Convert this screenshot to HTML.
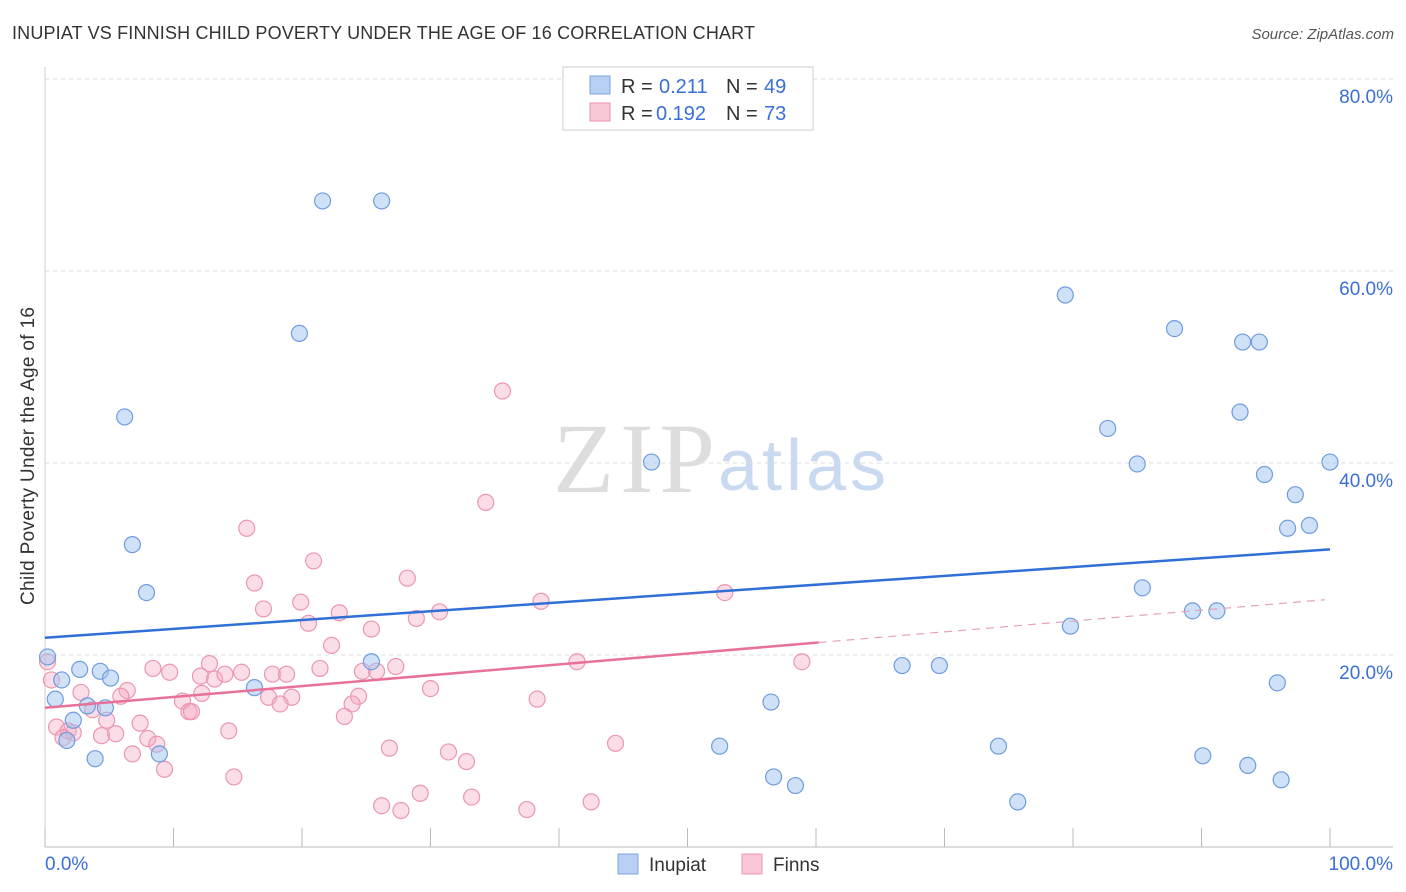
<!DOCTYPE html>
<html><head><meta charset="utf-8"><style>
body{margin:0;background:#fff;font-family:"Liberation Sans",sans-serif;}
svg{display:block}
</style></head><body>
<svg id="chart" width="1406" height="892">
<text x="12" y="39" font-size="18" fill="#333" textLength="743">INUPIAT VS FINNISH CHILD POVERTY UNDER THE AGE OF 16 CORRELATION CHART</text>
<text x="1394" y="39" font-size="15" fill="#555" font-style="italic" text-anchor="end">Source: ZipAtlas.com</text>
<text x="34" y="456" font-size="19" fill="#333" text-anchor="middle" textLength="298" transform="rotate(-90 34 456)">Child Poverty Under the Age of 16</text>
<text x="553" y="492" font-size="100" fill="#ddd" font-family="Liberation Serif,serif" textLength="162">ZIP</text>
<text x="718" y="490" font-size="72" fill="#c9d9f0" textLength="168">atlas</text>
<g id="grid"></g><g id="pts"></g><g id="lines"></g>
<g>
<rect x="563" y="67" width="250" height="63" fill="#fff" stroke="#ccc"/>
<rect x="590" y="76" width="20" height="18" fill="#b8d0f4" stroke="#7aa3e0"/>
<rect x="590" y="103" width="20" height="18" fill="#f9c7d6" stroke="#eb96b0"/>
<text x="621" y="93" font-size="20" fill="#333">R =</text><text x="659" y="93" font-size="20" fill="#3a6fd8">0.211</text>
<text x="726" y="93" font-size="20" fill="#333">N =</text><text x="764" y="93" font-size="20" fill="#3a6fd8">49</text>
<text x="621" y="120" font-size="20" fill="#333">R =</text><text x="656" y="120" font-size="20" fill="#3a6fd8">0.192</text>
<text x="726" y="120" font-size="20" fill="#333">N =</text><text x="764" y="120" font-size="20" fill="#3a6fd8">73</text>
</g>
<g>
<rect x="618" y="854" width="20" height="20" fill="#b8d0f4" stroke="#7aa3e0"/>
<text x="649" y="871" font-size="19" fill="#333">Inupiat</text>
<rect x="742" y="854" width="20" height="20" fill="#f9c7d6" stroke="#eb96b0"/>
<text x="773" y="871" font-size="19" fill="#333">Finns</text>
</g>
<text x="45" y="870" font-size="19" fill="#3a6fd8">0.0%</text>
<text x="1393" y="870" font-size="19" fill="#3a6fd8" text-anchor="end">100.0%</text>
</svg>
<script>
const yTicks=[20,40,60,80];
const blueX=[21.6,26.2,19.8,6.2,6.8,7.9,0.2,2.7,4.3,5.1,1.3,0.8,3.3,4.7,2.2,1.7,3.9,8.9,16.3,25.4,47.2,52.5,56.5,56.7,58.4,66.7,69.6,74.2,75.7,79.4,79.8,82.7,85.0,85.4,87.9,89.3,91.2,90.1,93.0,93.2,94.5,93.6,94.9,95.9,96.2,96.7,97.3,98.4,100];
const blueY=[67.3,67.3,53.5,44.8,31.5,26.5,19.8,18.5,18.3,17.6,17.4,15.4,14.7,14.5,13.2,11.1,9.2,9.7,16.6,19.3,40.1,10.5,15.1,7.3,6.4,18.9,18.9,10.5,4.7,57.5,23.0,43.6,39.9,27.0,54.0,24.6,24.6,9.5,45.3,52.6,52.6,8.5,38.8,17.1,7.0,33.2,36.7,33.5,40.1];
const pinkPx=[[503,391],[486,502],[247,528],[313,561],[255,583],[408,578],[301,602],[264,609],[339,613],[439,612],[416,619],[308,623],[541,601],[725,593],[371,629],[332,645],[209,664],[153,668],[170,672],[241,672],[273,674],[286,674],[320,668],[363,671],[377,671],[396,667],[577,662],[802,662],[200,676],[215,679],[225,674],[51,680],[81,692],[127,691],[121,696],[202,693],[268,697],[292,697],[280,704],[358,696],[352,704],[430,689],[537,699],[183,701],[93,710],[189,712],[192,712],[344,716],[107,720],[140,723],[57,727],[68,731],[73,733],[229,731],[101,736],[116,734],[148,739],[157,744],[63,738],[133,754],[389,748],[448,752],[615,743],[467,762],[165,769],[234,777],[420,793],[471,797],[591,802],[382,806],[401,811],[527,810],[48,662]];
const pinkX=pinkPx.map(p=>+((p[0]-45)/12.85).toFixed(1));
const pinkY=pinkPx.map(p=>+((847-p[1])/9.6).toFixed(1));
const blueLine=[21.8,31.0];
const pinkLine=[14.5,25.8];
const pinkSolidEnd=60.2;
const X=v=>45+v*12.85, Y=v=>847-v*9.6;
const NS="http://www.w3.org/2000/svg";
function mk(t,a,parent){const e=document.createElementNS(NS,t);for(const k in a)e.setAttribute(k,a[k]);document.getElementById(parent).appendChild(e);return e;}
yTicks.forEach(t=>{
 const l=mk('line',{x1:45,x2:1393,y1:Y(t),y2:Y(t),stroke:'#ddd','stroke-dasharray':'4,4'},'grid');
 
 
 const tx=mk('text',{x:1393,y:Y(t)+24,'font-size':19,fill:'#3a6fd8','text-anchor':'end'},'grid');
 tx.textContent=t.toFixed(1)+'%';
 
 
});
const ax=mk('line',{x1:45,x2:1393,y1:847,y2:847,stroke:'#bbb'},'grid');


const ay=mk('line',{x1:45,x2:45,y1:67,y2:847,stroke:'#ccc'},'grid');


for(let i=0;i<=10;i++){const t=mk('line',{x1:X(i*10),x2:X(i*10),y1:828,y2:847,stroke:'#bbb'},'grid');
 
 }
pinkX.forEach((x,i)=>{const c=mk('circle',{cx:X(x),cy:Y(pinkY[i]),r:8,fill:'rgba(244,170,195,0.4)',stroke:'#eb96b0','stroke-width':1.2},'pts');
 
 });
blueX.forEach((x,i)=>{const c=mk('circle',{cx:X(x),cy:Y(blueY[i]),r:8,fill:'rgba(160,195,240,0.5)',stroke:'#6f9be0','stroke-width':1.2},'pts');
 
 });
const bl=mk('line',{x1:X(0),y1:Y(blueLine[0]),x2:X(100),y2:Y(blueLine[1]),stroke:'#2f6fd6','stroke-width':2.5},'lines');


const pm=pinkLine[0]+(pinkLine[1]-pinkLine[0])*pinkSolidEnd/100;
const pl=mk('line',{x1:X(0),y1:Y(pinkLine[0]),x2:X(pinkSolidEnd),y2:Y(pm),stroke:'#e8719a','stroke-width':2.5},'lines');


const pd=mk('line',{x1:X(pinkSolidEnd),y1:Y(pm),x2:X(99.6),y2:Y(pinkLine[0]+(pinkLine[1]-pinkLine[0])*0.996),stroke:'#e8a0b8','stroke-width':1.2,'stroke-dasharray':'8,6'},'lines');


</script>
</body></html>
